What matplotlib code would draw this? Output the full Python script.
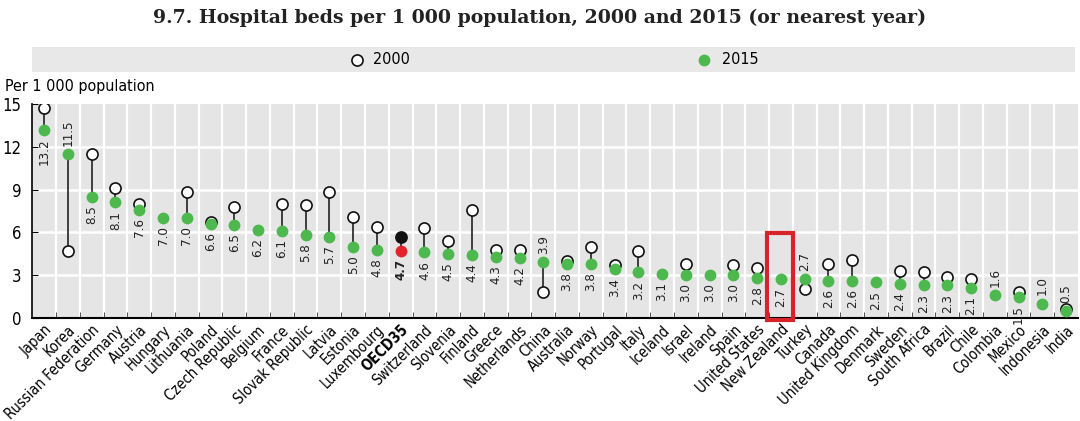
import numpy as np
import matplotlib
matplotlib.use('Agg')
import matplotlib.pyplot as plt
from matplotlib.patches import Rectangle
from matplotlib import font_manager as fm

# Данные
countries = ['Japan', 'Korea', 'Russian Federation', 'Germany', 'Austria', 'Hungary',
             'Lithuania', 'Poland', 'Czech Republic', 'Belgium', 'France', 'Slovak Republic',
             'Latvia', 'Estonia', 'Luxembourg', 'OECD35', 'Switzerland', 'Slovenia',
             'Finland', 'Greece', 'Netherlands', 'China', 'Australia', 'Norway',
             'Portugal', 'Italy', 'Iceland', 'Israel', 'Ireland', 'Spain',
             'United States', 'New Zealand', 'Turkey', 'Canada', 'United Kingdom',
             'Denmark', 'Sweden', 'South Africa', 'Brazil', 'Chile', 'Colombia',
             'Mexico', 'Indonesia', 'India']

beds_2015 = [13.2, 11.5, 8.5, 8.1, 7.6, 7.0, 7.0, 6.6, 6.5, 6.2, 6.1, 5.8, 5.7, 5.0,
             4.8, 4.7, 4.6, 4.5, 4.4, 4.3, 4.2, 3.9, 3.8, 3.8, 3.4, 3.2, 3.1, 3.0,
             3.0, 3.0, 2.8, 2.7, 2.7, 2.6, 2.6, 2.5, 2.4, 2.3, 2.3, 2.1, 1.6, 1.5,
             1.0, 0.5]

beds_2000 = [14.7, 4.7, 11.5, 9.1, 8.0, np.nan, 8.8, 6.7, 7.8, np.nan, 8.0, 7.9,
             8.8, 7.1, 6.4, 5.7, 6.3, 5.4, 7.6, 4.8, 4.8, 1.8, 4.0, 5.0,
             3.7, 4.7, np.nan, 3.8, np.nan, 3.7, 3.5, np.nan, 2.0, 3.8, 4.1,
             np.nan, 3.3, 3.2, 2.9, 2.7, np.nan, 1.8, np.nan, 0.6]

label_above = ['Korea', 'China', 'Turkey', 'Colombia', 'Indonesia', 'India']
highlight = 'New Zealand'

# Узкий шрифт, если есть
names = {f.name for f in fm.fontManager.ttflist}
stretches = {(f.name, f.stretch) for f in fm.fontManager.ttflist}
if 'Liberation Sans Narrow' in names:
    plt.rcParams['font.family'] = ['Liberation Sans Narrow', 'DejaVu Sans']
    fs_scale = 1.0
elif ('DejaVu Sans', 'condensed') in stretches or ('DejaVu Sans', 'semi-condensed') in stretches:
    plt.rcParams['font.family'] = ['DejaVu Sans']
    plt.rcParams['font.stretch'] = 'condensed'
    fs_scale = 1.0
else:
    plt.rcParams['font.family'] = ['Roboto', 'DejaVu Sans']
    fs_scale = 0.9

green = '#4db84e'
bg = '#e5e5e5'

fig = plt.figure(figsize=(10.8, 4.21), dpi=100)
ax = fig.add_axes([32.3 / 1080, 1 - 318 / 421, (1078 - 32.3) / 1080, 214 / 421])

x = np.arange(len(countries))
ax.set_facecolor(bg)
ax.set_xlim(-0.5, len(countries) - 0.5)
ax.set_ylim(0, 15)

# Сетка
for b in np.arange(0.5, len(countries) - 0.5, 1):
    ax.axvline(b, color='white', lw=1.6, zorder=1)
for yv in [3, 6, 9, 12]:
    ax.axhline(yv, color='white', lw=1.8, zorder=1)

for i, c in enumerate(countries):
    v15 = beds_2015[i]
    v00 = beds_2000[i]
    oecd = c == 'OECD35'
    if not np.isnan(v00):
        ax.plot([i, i], [v00, v15], color='#222222', lw=1.2, zorder=2)
        ax.plot(i, v00, 'o', ms=8, mfc='#111111' if oecd else 'white',
                mec='#111111', mew=1.2, zorder=4 if oecd else 3)
    ax.plot(i, v15, 'o', ms=8.5, mfc='#e3232c' if oecd else green,
            mec='none', zorder=5)

    lo = v15 if np.isnan(v00) else min(v00, v15)
    if c in label_above:
        ax.annotate(f'{v15:.1f}', (i, v15), xytext=(0, 6), textcoords='offset points',
                    rotation=90, ha='center', va='bottom', fontsize=9.5 * fs_scale,
                    color='#222222', fontweight='bold' if oecd else 'normal')
    else:
        ax.annotate(f'{v15:.1f}', (i, lo), xytext=(0, -6), textcoords='offset points',
                    rotation=90, ha='center', va='top', fontsize=9.5 * fs_scale,
                    color='#222222', fontweight='bold' if oecd else 'normal', zorder=6)

# Подсветка New Zealand
k = countries.index(highlight)
ax.add_patch(Rectangle((k - 0.6, -0.15), 1.1, 6.1, fill=False, ec='#d9232a',
                       lw=3, clip_on=False, zorder=7))

# Оси
for s in ['top', 'right']:
    ax.spines[s].set_visible(False)
ax.spines['left'].set_color('black')
ax.spines['bottom'].set_color('black')
ax.spines['bottom'].set_linewidth(1.5)
ax.spines['left'].set_linewidth(1.2)

ax.set_yticks([0, 3, 6, 9, 12, 15])
ax.tick_params(axis='y', direction='in', length=4, labelsize=12 * fs_scale, pad=8, colors='black')
ax.set_xticks(x)
ax.set_xticklabels(countries, rotation=45, ha='right', rotation_mode='anchor',
                   fontsize=10.5 * fs_scale)
ax.tick_params(axis='x', length=0, pad=3)
ax.set_xticks(np.arange(0.5, len(countries) - 0.5, 1), minor=True)
ax.tick_params(axis='x', which='minor', direction='in', length=4, color='#333333')
for lbl in ax.get_xticklabels():
    if lbl.get_text() == 'OECD35':
        lbl.set_fontweight('bold')

fig.text(5 / 1080, 1 - 86 / 421, 'Per 1 000 population', fontsize=11.5 * fs_scale,
         va='center', ha='left')

# Заголовок
fig.text(0.5, 1 - 18 / 421, '9.7. Hospital beds per 1 000 population, 2000 and 2015 (or nearest year)',
         fontsize=13.6, fontweight='bold', family='DejaVu Serif', stretch='normal',
         ha='center', va='center', color='#222222')

# Легенда
lax = fig.add_axes([32 / 1080, 1 - 72 / 421, (1075 - 32) / 1080, 25 / 421])
lax.set_facecolor('#e8e8e8')
lax.set_xlim(0, 1)
lax.set_ylim(0, 1)
lax.set_xticks([])
lax.set_yticks([])
for s in lax.spines.values():
    s.set_visible(False)
lax.plot(0.3116, 0.5, 'o', ms=8, mfc='white', mec='#111111', mew=1.2)
lax.text(0.3116 + 16 / 1043, 0.5, '2000', fontsize=11.5 * fs_scale, va='center', ha='left')
lax.plot(0.644, 0.5, 'o', ms=8.5, mfc=green, mec='none')
lax.text(0.644 + 18 / 1043, 0.5, '2015', fontsize=11.5 * fs_scale, va='center', ha='left')

fig.savefig('out.png', dpi=100)
